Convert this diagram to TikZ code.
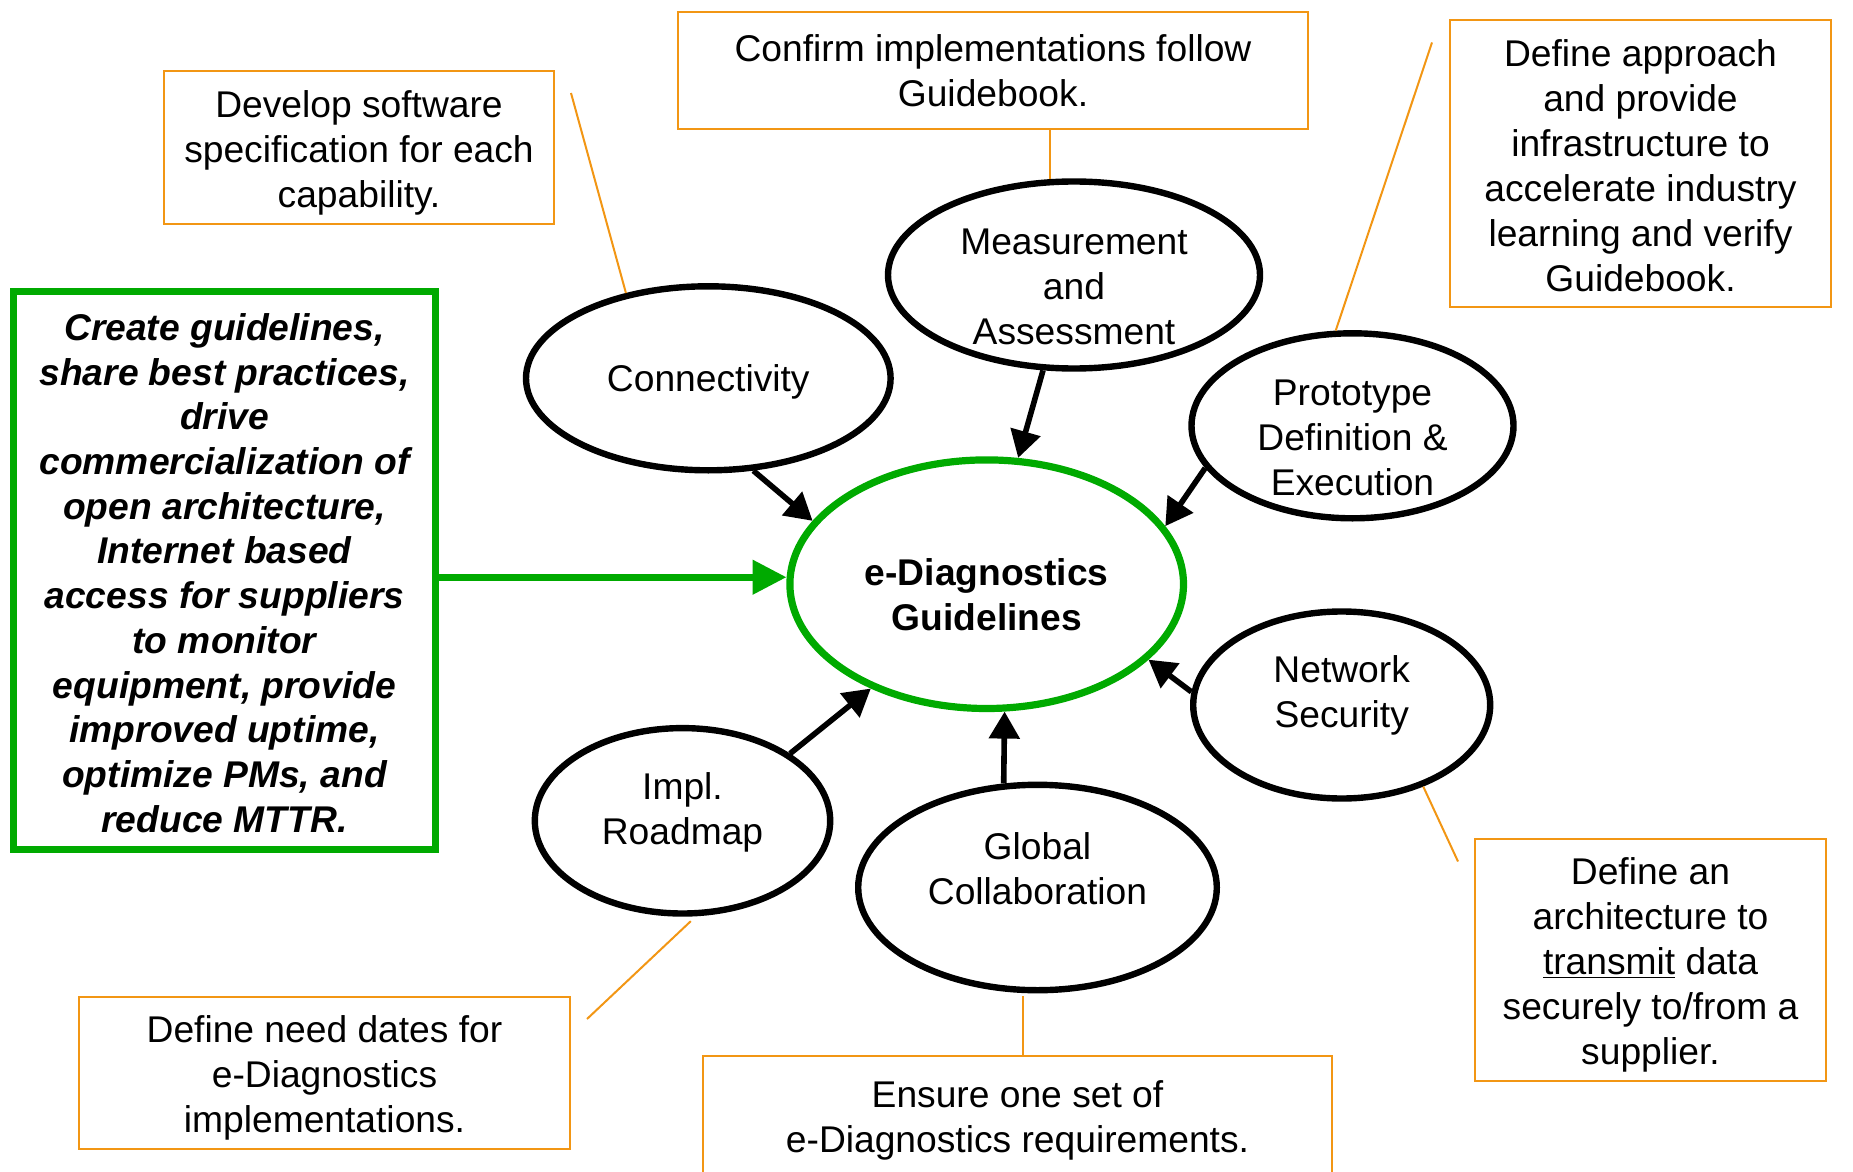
\documentclass[tikz,border=0pt]{standalone}
\usepackage{fontspec}
\setmainfont{Liberation Sans}
\usetikzlibrary{arrows.meta,shapes.geometric}
\definecolor{orng}{RGB}{242,150,20}
\definecolor{grn}{RGB}{0,170,0}
\begin{document}
\begin{tikzpicture}[x=0.5pt,y=-0.5pt,
  every node/.style={font=\fontsize{18.6pt}{22.5pt}\selectfont, align=center},
  bub/.style={ellipse, draw=black, line width=3.2pt, fill=white, inner sep=0pt},
  lbl/.style={inner sep=0pt},
  obox/.style={rectangle, draw=orng, line width=1pt, inner sep=0pt},
  arr/.style={line width=2.8pt, -{Triangle[length=13.5pt,width=15pt]}},
  lead/.style={draw=orng, line width=1pt}]
\useasboundingbox (0,0) rectangle (1853,1172);
\clip (0,0) rectangle (1853,1172);

% orange boxes
\node[obox, minimum width=195pt, minimum height=76.5pt] (dev) at (359,147.5) {};
\node[lbl] (devT) at (359,152.5) {Develop software\\specification for each\\capability.};
\node[obox, minimum width=315pt, minimum height=58.7pt] (conf) at (993,70.3) {};
\node[lbl] (confT) at (993,70.8) {Confirm implementations follow\\Guidebook.};
\node[obox, minimum width=190.5pt, minimum height=143.5pt] (appr) at (1640.5,163.5) {};
\node[lbl] (apprT) at (1640.5,166) {Define approach\\and provide\\infrastructure to\\accelerate industry\\learning and verify\\Guidebook.};
\node[obox, minimum width=175.5pt, minimum height=121pt] (arch) at (1650.5,960) {};
\node[lbl] (archT) at (1650.5,965) {Define an\\architecture to\\\underline{transmit} data\\securely to/from a\\supplier.};
\node[obox, minimum width=245.5pt, minimum height=76pt] (need) at (324.5,1073) {};
\node[lbl] (needT) at (324.5,1078) {Define need dates for\\e-Diagnostics\\implementations.};
\node[obox, minimum width=314.5pt, minimum height=59.6pt] (ens) at (1017.5,1115.6) {};
\node[lbl] (ensT) at (1017.5,1120) {Ensure one set of\\e-Diagnostics requirements.};

% green box
\node[draw=grn, line width=3.6pt, minimum width=211pt, minimum height=279pt, inner sep=0pt] (gb) at (224.5,570.5) {};
\node[lbl, font=\fontsize{18.6pt}{22.35pt}\selectfont\bfseries\itshape] (gbT) at (224.5,573)
  {Create guidelines,\\share best practices,\\drive\\commercialization of\\open architecture,\\Internet based\\access for suppliers\\to monitor\\equipment, provide\\improved uptime,\\optimize PMs, and\\reduce MTTR.};

% ellipses
\node[ellipse, draw=grn, line width=3.6pt, fill=white, inner sep=0pt, minimum width=196.8pt, minimum height=124.3pt] (C) at (986.7,584.2) {};
\node[lbl, font=\fontsize{18.6pt}{22.5pt}\selectfont\bfseries] (CT) at (986.7,595) {e-Diagnostics\\Guidelines};

\node[bub, minimum width=182.3pt, minimum height=92pt] (conn) at (708.3,378.3) {};
\node[lbl] (connT) at (708.3,382) {Connectivity};

\node[bub, minimum width=186pt, minimum height=93.5pt] (meas) at (1074,275) {};
\node[lbl] (measT) at (1074,287) {Measurement\\and\\Assessment};

\node[bub, minimum width=161pt, minimum height=92.5pt] (proto) at (1352.5,425.8) {};
\node[lbl] (protoT) at (1352.5,438) {Prototype\\Definition \&\\Execution};

\node[bub, minimum width=148.5pt, minimum height=93.5pt] (net) at (1341.7,705) {};
\node[lbl] (netT) at (1341.7,695.5) {Network\\Security};

\node[bub, minimum width=179.3pt, minimum height=102.7pt] (glob) at (1037.5,887.5) {};
\node[lbl] (globT) at (1037.5,869) {Global\\Collaboration};

\node[bub, minimum width=147.7pt, minimum height=92.7pt] (impl) at (682.5,820.8) {};
\node[lbl] (implT) at (682.5,812) {Impl.\\Roadmap};

% black arrows
\draw[arr] (conn.-64.4) -- (C.160.6);
\draw[arr] (meas.-108.8) -- (C.76.1);
\draw[arr] (proto.-164.5) -- (C.18.7);
\draw[arr] (net.175.4) -- (C.-25.5);
\draw[arr] (glob.108.5) -- (C.-82.7);
\draw[arr] (impl.32.5) -- (C.-138.3);

% green arrow
\draw[grn, line width=3.7pt, -{Triangle[length=17pt,width=16.5pt]}] (gb.east |- C.178.3) -- (C.178.3);

% orange leader lines
\coordinate (devEnd) at (571,93);
\draw[lead] (devEnd) -- (conn.134.3);
\draw[lead] (meas.104.3) -- (meas.104.3 |- conf.south);
\coordinate (apprEnd) at (1432,42.5);
\draw[lead] (apprEnd) -- (proto.100.7);
\coordinate (archEnd) at (1458,861.5);
\draw[lead] (net.-45) -- (archEnd);
\coordinate (needEnd) at (587,1019);
\draw[lead, shorten <=3.5pt] (impl.-82.4) -- (needEnd);
\draw[lead, shorten <=1.5pt] (glob.-98.7) -- (glob.-98.7 |- ens.north);
\end{tikzpicture}
\end{document}
